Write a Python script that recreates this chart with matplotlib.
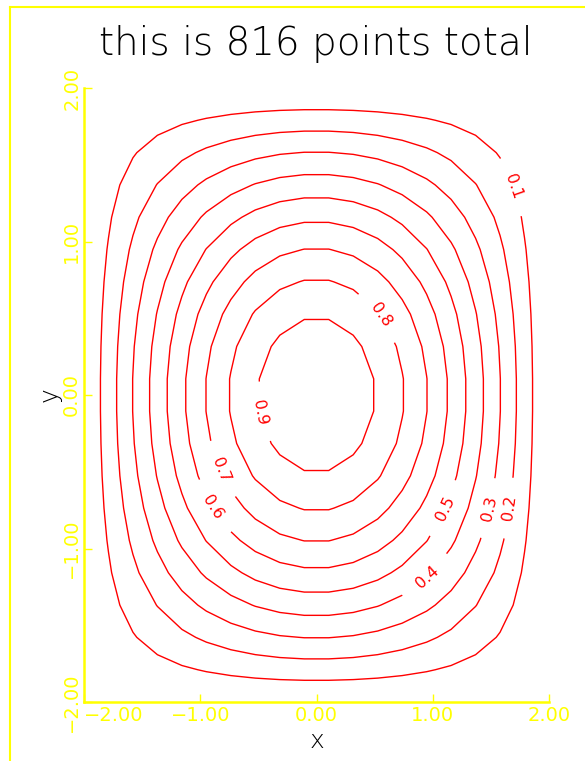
import numpy as np
import matplotlib.pyplot as plt
from matplotlib.lines import Line2D

# field profile along each axis (value vs distance from centre),
# read where the contours cut the x=0 / y=0 lines
prof_r = [0.0, 0.26, 0.525, 0.77, 0.965, 1.137, 1.295, 1.443, 1.586, 1.723, 1.857, 2.0]
prof_z = [1.0, 0.975, 0.9, 0.8, 0.7, 0.6, 0.5, 0.4, 0.3, 0.2, 0.1, 0.0]
n_grid = 20

levels = [0.1, 0.2, 0.3, 0.4, 0.5, 0.6, 0.7, 0.8, 0.9]
label_x = [1.673, 1.647, 1.475, 0.933, 1.088, -0.890, -0.830, 0.520, -0.486]
label_y = [1.355, -0.736, -0.736, -1.173, -0.736, -0.730, -0.489, 0.508, -0.111]

ticks = [-2, -1, 0, 1, 2]
tick_labels = ['\u22122.00', '\u22121.00', '0.00', '1.00', '2.00']
title = 'this is 816 points total'

plt.rcParams['font.family'] = ['DejaVu Sans']

g = np.linspace(-2, 2, n_grid)
f = np.interp(np.abs(g), prof_r, prof_z)
Z = np.outer(f, f)

fig = plt.figure(figsize=(5.85, 7.61), dpi=100)
ax = fig.add_axes([84 / 585, 59 / 761, 465 / 585, 614 / 761])

# one contour set per level so each label lands on its own line
for lev, lx, ly in zip(levels, label_x, label_y):
    cs = ax.contour(g, g, Z, levels=[lev], colors='red', linewidths=1.0)
    ax.clabel(cs, manual=[(lx, ly)], fmt='%.1f', fontsize=11.5,
              inline=True, inline_spacing=18, colors='red')

ax.set_xlim(-2, 2)
ax.set_ylim(-2, 2)
ax.spines['top'].set_visible(False)
ax.spines['right'].set_visible(False)
for s in ['left', 'bottom']:
    ax.spines[s].set_color('yellow')
    ax.spines[s].set_linewidth(1.8)

ax.set_xticks(ticks)
ax.set_xticklabels(tick_labels)
ax.set_yticks(ticks)
ax.set_yticklabels(tick_labels, rotation=90, va='center')
ax.tick_params(direction='in', length=6, width=1, color='yellow',
               labelcolor='yellow', labelsize=14)
ax.tick_params(axis='x', pad=3)
ax.tick_params(axis='y', pad=2)
ax.get_xticklabels()[0].set_ha('left')

ax.set_xlabel('x', fontsize=18, va='center', fontweight='light')
ax.xaxis.set_label_coords(0.5, -0.064)
ax.set_ylabel('y', fontsize=18, va='center', fontweight='light')
ax.yaxis.set_label_coords(-0.073, 0.5)

fig.text(0.539, 1 - 55 / 761, title, ha='center', va='baseline',
         fontsize=28, fontweight='light')

# page border (only top and left edges fall inside the image)
fig.add_artist(Line2D([10 / 585, 10 / 585], [0, 1 - 7 / 761],
                      transform=fig.transFigure, color='yellow', lw=1.5))
fig.add_artist(Line2D([10 / 585, 1], [1 - 7 / 761, 1 - 7 / 761],
                      transform=fig.transFigure, color='yellow', lw=1.5))

fig.savefig('out.png', dpi=100)
